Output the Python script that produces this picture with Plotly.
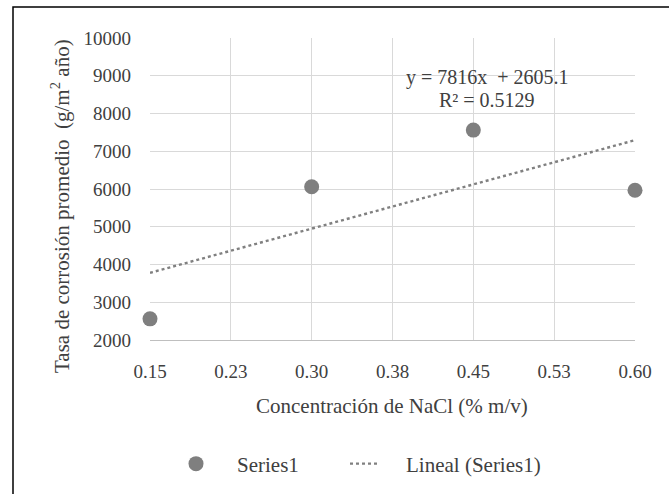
import numpy as np
import plotly.graph_objects as go

# Data
concentration = [0.15, 0.30, 0.45, 0.60]
corrosion_rate = [2560, 6060, 7560, 5965]
x_tick_vals = [0.15, 0.225, 0.30, 0.375, 0.45, 0.525, 0.60]
x_tick_text = ["0.15", "0.23", "0.30", "0.38", "0.45", "0.53", "0.60"]
y_tick_vals = [2000, 3000, 4000, 5000, 6000, 7000, 8000, 9000, 10000]
y_tick_text = ["2000", "3000", "4000", "5000", "6000", "7000", "8000", "9000", "10000"]
equation_text = "y = 7816x  + 2605.1"
r2_text = "R² = 0.5129"
x_title = "Concentración de NaCl (% m/v)"
y_title = "Tasa de corrosión promedio  (g/m<sup>2</sup> año)"

slope, intercept = np.polyfit(concentration, corrosion_rate, 1)
trend_x = [min(concentration), max(concentration)]
trend_y = [slope * v + intercept for v in trend_x]

FONT = "Liberation Serif, Times New Roman, serif"
TXT = "#404040"
NB = "\u00a0"

W, H = 669, 494
L, R, T, B = 150, 34, 38, 154
pw, ph = W - L - R, H - T - B


def px2paper(px, py):
    return (px - L) / pw, (H - B - py) / ph


fig = go.Figure()
fig.add_trace(go.Scatter(
    x=concentration, y=corrosion_rate, mode="markers", name=NB * 4 + "Series1",
    marker=dict(size=15, color="#7f7f7f"), cliponaxis=False, legendwidth=124,
))
fig.add_trace(go.Scatter(
    x=trend_x, y=trend_y, mode="lines", name=NB * 4 + "Lineal (Series1)",
    line=dict(color="#808080", width=2.4, dash="dot"), legendwidth=220,
))

for txt, cx, cy in [(equation_text, 487, 77), (r2_text, 487, 100)]:
    ax, ay = px2paper(cx, cy)
    fig.add_annotation(x=ax, y=ay, xref="paper", yref="paper", text=txt,
                       xanchor="center", yanchor="middle",
                       showarrow=False, font=dict(family=FONT, size=20, color=TXT))

ax, ay = px2paper(392, 406)
fig.add_annotation(x=ax, y=ay, xref="paper", yref="paper", text=x_title,
                   xanchor="center", yanchor="middle",
                   showarrow=False, font=dict(family=FONT, size=21, color=TXT))
ax, ay = px2paper(60, 206)
fig.add_annotation(x=ax, y=ay, xref="paper", yref="paper", text=y_title, textangle=-90,
                   xanchor="center", yanchor="middle",
                   showarrow=False, font=dict(family=FONT, size=21, color=TXT))

# outer frame
x0, y1 = px2paper(13, 7)
x1, y0 = px2paper(700, 520)
fig.add_shape(type="rect", xref="paper", yref="paper", x0=x0, x1=x1, y0=y0, y1=y1,
              line=dict(color="black", width=1.5), layer="below")

lx, ly = px2paper(176, 464)
fig.update_layout(
    width=W, height=H,
    margin=dict(l=L, r=R, t=T, b=B, autoexpand=False),
    paper_bgcolor="white", plot_bgcolor="white",
    font=dict(family=FONT, size=19, color=TXT),
    showlegend=True,
    legend=dict(orientation="h", x=lx, y=ly, xanchor="left", yanchor="middle",
                font=dict(family=FONT, size=21, color=TXT),
                bgcolor="rgba(0,0,0,0)"),
    xaxis=dict(range=[0.15, 0.60], tickvals=x_tick_vals, ticktext=x_tick_text,
               showgrid=True, gridcolor="#d9d9d9", gridwidth=1, zeroline=False,
               showline=True, linecolor="#bfbfbf", ticks="", ticklabelstandoff=14,
               automargin=False, tickfont=dict(size=19)),
    yaxis=dict(range=[2000, 10000], tickvals=y_tick_vals, ticktext=y_tick_text,
               showgrid=True, gridcolor="#d9d9d9", gridwidth=1, zeroline=False,
               showline=False, ticks="", ticklabelstandoff=18,
               automargin=False, tickfont=dict(size=19)),
)

fig.write_html("out.html", config={"displayModeBar": False},
               post_script="document.body.style.margin='0px';")
